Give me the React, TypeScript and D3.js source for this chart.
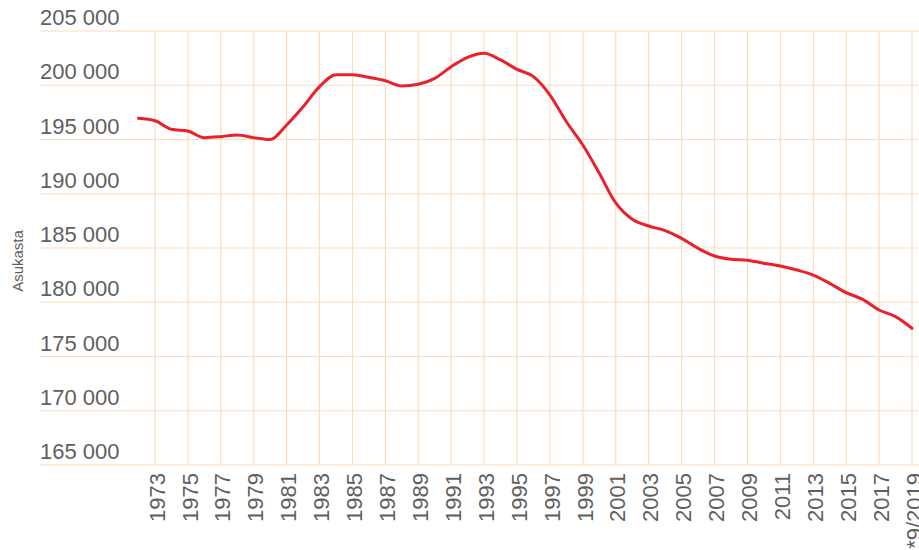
import React from 'react';
import * as d3 from 'd3';

// Asukasluku vuosittain (luettu kuvasta)
const years: number[] = d3.range(1972, 2020);
const population: number[] = [
    196950, 196730, 195940, 195780, 195170, 195260, 195420, 195170, 194990, 196340,
    198020, 199870, 200970, 200970, 200730, 200420, 199930, 200090, 200640, 201710,
    202570, 202940, 202330, 201470, 200790, 199100, 196640, 194490, 191880, 189150,
    187650, 187030, 186600, 185890, 184970, 184260, 183960, 183870, 183590, 183340,
    182970, 182510, 181740, 180880, 180270, 179290, 178670, 177600
];
const yTicks: number[] = [165000, 170000, 175000, 180000, 185000, 190000, 195000, 200000, 205000];
const xTickYears: number[] = d3.range(1973, 2020, 2);
const xTickLabel = (y: number) => (y === 2019 ? '*9/2019' : String(y));

const W = 919;
const H = 550;

const App: React.FC = () => {
    const x = d3.scaleLinear().domain([1972, 2019]).range([138.5, 912]);
    const y = d3.scaleLinear().domain([165000, 205000]).range([465, 31]);

    const line = d3.line<number>()
        .x((_, i) => x(years[i]))
        .y(d => y(d))
        .curve(d3.curveMonotoneX);

    const font = '"Liberation Sans", Arial, sans-serif';

    return (
        <svg width={W} height={H} style={{ position: 'absolute', left: 0, top: 0 }} fontFamily={font}>
            <rect width={W} height={H} fill="#fff" />
            {/* grid */}
            {yTicks.map(t => (
                <line key={'h' + t} x1={40} x2={W} y1={y(t)} y2={y(t)} stroke="#fbdcbd" strokeWidth={1.2} />
            ))}
            {xTickYears.map(t => (
                <line key={'v' + t} x1={x(t)} x2={x(t)} y1={y(205000)} y2={y(165000)} stroke="#fbdcbd" strokeWidth={1.2} />
            ))}
            {/* y labels */}
            {yTicks.map(t => (
                <text key={'yl' + t} x={40} y={y(t) - 6} fontSize={22} fill="#5f5f5f">
                    {d3.format(',')(t).replace(/,/g, ' ')}
                </text>
            ))}
            {/* x labels */}
            {xTickYears.map(t => (
                <text
                    key={'xl' + t}
                    transform={`translate(${x(t) + 2},473) rotate(-90)`}
                    textAnchor="end"
                    dy="0.35em"
                    fontSize={22}
                    fill="#5f5f5f"
                >
                    {xTickLabel(t)}
                </text>
            ))}
            <text transform="translate(18,261) rotate(-90)" textAnchor="middle" dy="0.35em" fontSize={15} fill="#5f5f5f">
                Asukasta
            </text>
            <path d={line(population) ?? ''} fill="none" stroke="#e8212b" strokeWidth={3} strokeLinejoin="round" strokeLinecap="round" />
        </svg>
    );
};

export default App;
